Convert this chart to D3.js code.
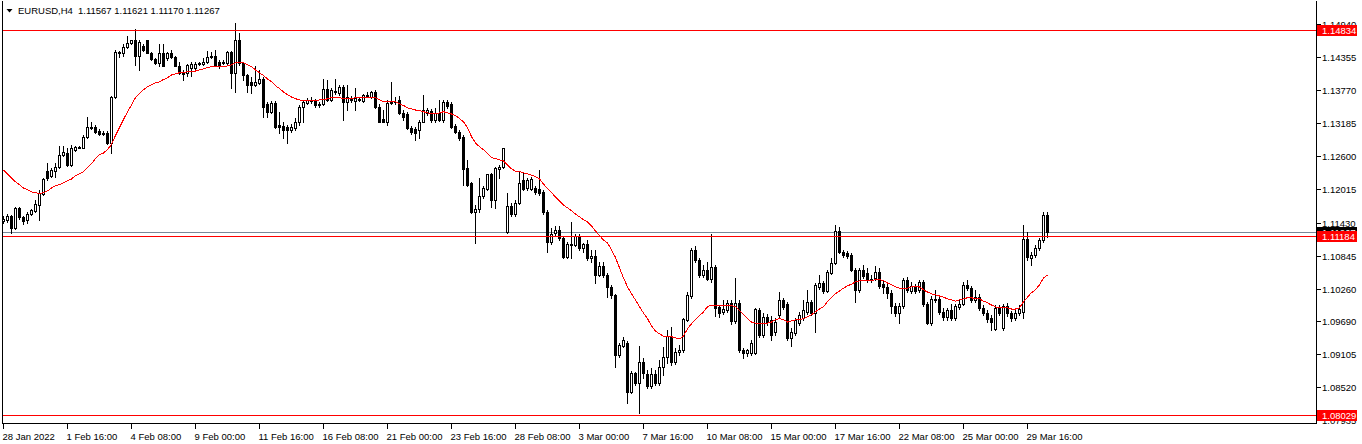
<!DOCTYPE html>
<html><head><meta charset="utf-8">
<script src="https://cdn.jsdelivr.net/npm/d3@7"></script>
<style>
body{margin:0;background:#fff;}
svg{display:block;font-family:"Liberation Sans",Arial,sans-serif;}
</style>
</head><body>
<svg id="chart" width="1362" height="444"></svg>
<script>
const symbolTitle = "EURUSD,H4";
const titleValues = "1.11567 1.11621 1.11170 1.11267";

const open = [
1.1146,1.1148,1.1155,1.1134,1.1169,1.1153,1.1148,1.1158,1.1164,1.1174,
1.1194,1.1235,1.1226,1.1235,1.1242,1.1263,1.1266,1.1245,1.1272,1.1275,
1.1275,1.1295,1.1312,1.1312,1.1305,1.1302,1.1302,1.1284,1.1365,1.1445,
1.1442,1.1454,1.1461,1.1465,1.1438,1.1456,1.1465,1.1443,1.1433,1.1426,
1.1442,1.1434,1.1442,1.1436,1.1420,1.1410,1.1408,1.1417,1.1417,1.1426,
1.1424,1.1427,1.1436,1.1438,1.1427,1.1427,1.1426,1.1445,1.1408,1.1466,
1.1426,1.1404,1.1392,1.1387,1.1390,1.1397,1.1353,1.1339,1.1355,1.1316,
1.1314,1.1312,1.1307,1.1311,1.1320,1.1348,1.1355,1.1358,1.1358,1.1351,
1.1353,1.1380,1.1360,1.1374,1.1373,1.1383,1.1357,1.1362,1.1358,1.1362,
1.1358,1.1367,1.1365,1.1374,1.1348,1.1327,1.1321,1.1355,1.1357,1.1360,
1.1337,1.1335,1.1311,1.1309,1.1307,1.1321,1.1337,1.1341,1.1325,1.1337,
1.1325,1.1357,1.1353,1.1314,1.1304,1.1295,1.1240,1.1213,1.1162,1.1167,
1.1190,1.1203,1.1228,1.1183,1.1238,1.1242,1.1127,1.1173,1.1158,1.1178,
1.1219,1.1204,1.1203,1.1204,1.1203,1.1197,1.1162,1.1109,1.1125,1.1130,
1.1116,1.1082,1.1104,1.1104,1.1118,1.1098,1.1105,1.1081,1.1084,1.1050,
1.1066,1.1050,1.1029,1.1015,1.0909,1.0925,1.0930,1.0843,1.0877,1.0859,
1.0896,1.0875,1.0854,1.0875,1.0859,1.0888,1.0905,1.0942,1.0896,1.0914,
1.0918,1.0971,1.1013,1.1095,1.1077,1.1050,1.1059,1.1043,1.1065,1.0994,
1.0985,1.0988,1.1001,1.0969,1.1001,1.0918,1.0912,1.0912,1.0912,1.0988,
1.0944,1.0976,1.0971,1.0950,1.0980,1.1006,1.0999,1.0939,1.0948,1.0965,
1.0974,1.0985,1.1003,1.0983,1.1029,1.1036,1.1022,1.1054,1.1072,1.1128,
1.1091,1.1089,1.1086,1.1059,1.1024,1.1059,1.1054,1.1043,1.1045,1.1056,
1.1034,1.1029,1.1019,1.0996,1.0983,1.0996,1.1042,1.1022,1.1031,1.1024,
1.1038,1.0999,1.0965,1.1006,1.1008,1.0985,1.0976,1.0988,1.0974,1.0994,
1.0999,1.1033,1.1027,1.1006,1.1011,1.0992,1.0983,1.0974,1.0955,1.0992,
1.0957,1.0996,1.0983,1.0974,1.0983,1.0985,1.1114,1.1081,1.1086,1.1098,
1.1112,1.11567];

const high = [
1.1155,1.1158,1.1157,1.1171,1.1171,1.1155,1.1162,1.1167,1.1183,1.1201,
1.1222,1.1249,1.1240,1.1249,1.1279,1.1279,1.1275,1.1281,1.1279,1.1279,
1.1297,1.1330,1.1321,1.1316,1.1309,1.1305,1.1305,1.1367,1.1449,1.1447,
1.1458,1.1473,1.1466,1.1486,1.1465,1.1459,1.1466,1.1445,1.1434,1.1459,
1.1458,1.1445,1.1449,1.1438,1.1427,1.1413,1.1424,1.1427,1.1427,1.1427,
1.1434,1.1447,1.1445,1.1449,1.1431,1.1431,1.1447,1.1447,1.1496,1.1479,
1.1427,1.1406,1.1401,1.1419,1.1413,1.1401,1.1357,1.1358,1.1358,1.1339,
1.1320,1.1316,1.1318,1.1328,1.1351,1.1360,1.1364,1.1365,1.1362,1.1357,
1.1397,1.1396,1.1381,1.1397,1.1387,1.1387,1.1387,1.1367,1.1381,1.1365,
1.1371,1.1374,1.1376,1.1378,1.1353,1.1342,1.1360,1.1392,1.1365,1.1367,
1.1342,1.1339,1.1314,1.1312,1.1325,1.1369,1.1346,1.1344,1.1346,1.1360,
1.1360,1.1360,1.1357,1.1318,1.1307,1.1297,1.1254,1.1215,1.1174,1.1222,
1.1208,1.1229,1.1231,1.1242,1.1245,1.1275,1.1196,1.1178,1.1183,1.1233,
1.1233,1.1222,1.1224,1.1208,1.1236,1.1201,1.1165,1.1134,1.1137,1.1137,
1.1120,1.1109,1.1144,1.1123,1.1123,1.1107,1.1112,1.1095,1.1095,1.1073,
1.1073,1.1054,1.1033,1.1017,1.0930,1.0941,1.0934,1.0880,1.0879,1.0925,
1.0904,1.0882,1.0886,1.0882,1.0900,1.0923,1.0953,1.0958,1.0921,1.0927,
1.0974,1.1020,1.1098,1.1102,1.1081,1.1068,1.1073,1.1123,1.1068,1.0997,
1.1006,1.1006,1.1006,1.1045,1.1006,1.0921,1.0919,1.0935,1.0992,1.0992,
1.0983,1.0981,1.0978,1.0974,1.1020,1.1010,1.1003,1.0957,1.0974,1.0985,
1.1006,1.1024,1.1006,1.1036,1.1050,1.1040,1.1059,1.1081,1.1139,1.1135,
1.1095,1.1093,1.1089,1.1063,1.1063,1.1068,1.1063,1.1050,1.1066,1.1063,
1.1042,1.1034,1.1024,1.1001,1.1001,1.1045,1.1047,1.1038,1.1034,1.1042,
1.1042,1.1003,1.1013,1.1024,1.1013,1.0992,1.0992,1.0999,1.0999,1.1006,
1.1038,1.1042,1.1031,1.1024,1.1017,1.0997,1.0988,1.0980,1.0997,1.0997,
1.0999,1.1001,1.0987,1.0988,1.0997,1.1139,1.1127,1.1091,1.1104,1.1116,
1.1162,1.11621];

const low = [
1.1142,1.1144,1.1125,1.1132,1.1150,1.1141,1.1142,1.1157,1.1162,1.1148,
1.1192,1.1219,1.1224,1.1224,1.1240,1.1261,1.1243,1.1243,1.1270,1.1274,
1.1274,1.1293,1.1309,1.1302,1.1298,1.1298,1.1282,1.1266,1.1364,1.1436,
1.1438,1.1452,1.1459,1.1422,1.1413,1.1447,1.1442,1.1431,1.1424,1.1419,
1.1419,1.1431,1.1434,1.1419,1.1406,1.1396,1.1403,1.1403,1.1413,1.1422,
1.1422,1.1426,1.1434,1.1420,1.1417,1.1424,1.1424,1.1381,1.1374,1.1422,
1.1396,1.1374,1.1373,1.1385,1.1388,1.1330,1.1330,1.1337,1.1311,1.1302,
1.1293,1.1284,1.1304,1.1307,1.1316,1.1321,1.1353,1.1355,1.1348,1.1348,
1.1351,1.1358,1.1358,1.1371,1.1369,1.1325,1.1342,1.1357,1.1342,1.1358,
1.1357,1.1365,1.1364,1.1346,1.1320,1.1320,1.1316,1.1353,1.1353,1.1335,
1.1325,1.1309,1.1300,1.1289,1.1293,1.1320,1.1334,1.1321,1.1321,1.1323,
1.1321,1.1346,1.1311,1.1302,1.1289,1.1210,1.1208,1.1160,1.1107,1.1162,
1.1187,1.1201,1.1171,1.1169,1.1222,1.1240,1.1125,1.1155,1.1155,1.1176,
1.1201,1.1201,1.1201,1.1194,1.1192,1.1158,1.1091,1.1105,1.1120,1.1112,
1.1081,1.1081,1.1081,1.1102,1.1095,1.1091,1.1077,1.1073,1.1036,1.1049,
1.1047,1.1011,1.1010,1.0888,1.0905,1.0923,1.0824,1.0842,1.0856,1.0806,
1.0868,1.0850,1.0850,1.0856,1.0856,1.0873,1.0895,1.0891,1.0893,1.0909,
1.0914,1.0969,1.1010,1.1073,1.1047,1.1047,1.1042,1.1038,1.0978,1.0976,
1.0981,1.0985,1.0964,1.0965,1.0914,1.0904,1.0907,1.0909,1.0911,1.0941,
1.0941,1.0962,1.0935,1.0944,1.0974,1.0990,1.0935,1.0925,1.0944,1.0962,
1.0971,1.0981,1.0980,1.0950,1.1026,1.1019,1.1020,1.1052,1.1070,1.1089,
1.1082,1.1081,1.1057,1.1003,1.1020,1.1045,1.1038,1.1038,1.1042,1.1027,
1.1019,1.1010,1.0983,1.0978,1.0965,1.0992,1.1020,1.1019,1.1019,1.1020,
1.0996,1.0964,1.0962,1.1003,1.0981,1.0971,1.0971,1.0971,1.0971,1.0990,
1.0997,1.1024,1.1003,1.1003,1.0988,1.0980,1.0967,1.0953,1.0953,1.0980,
1.0953,1.0978,1.0969,1.0971,1.0980,1.0974,1.1077,1.1068,1.1082,1.1095,
1.1109,1.11170];

const close = [
1.1150,1.1155,1.1134,1.1169,1.1153,1.1146,1.1158,1.1165,1.1176,1.1196,
1.1220,1.1222,1.1236,1.1242,1.1263,1.1268,1.1245,1.1274,1.1277,1.1277,
1.1295,1.1312,1.1311,1.1304,1.1300,1.1300,1.1284,1.1365,1.1445,1.1442,
1.1454,1.1461,1.1465,1.1438,1.1463,1.1449,1.1443,1.1433,1.1426,1.1442,
1.1420,1.1442,1.1436,1.1420,1.1408,1.1406,1.1422,1.1424,1.1424,1.1424,
1.1427,1.1436,1.1438,1.1422,1.1420,1.1426,1.1445,1.1408,1.1466,1.1426,
1.1404,1.1387,1.1387,1.1392,1.1397,1.1348,1.1339,1.1355,1.1312,1.1312,
1.1307,1.1307,1.1312,1.1320,1.1348,1.1357,1.1360,1.1360,1.1351,1.1353,
1.1380,1.1360,1.1378,1.1376,1.1383,1.1357,1.1365,1.1360,1.1364,1.1360,
1.1369,1.1369,1.1374,1.1348,1.1321,1.1321,1.1355,1.1357,1.1356,1.1337,
1.1330,1.1311,1.1304,1.1302,1.1321,1.1342,1.1342,1.1325,1.1337,1.1325,
1.1357,1.1350,1.1312,1.1304,1.1293,1.1238,1.1210,1.1162,1.1167,1.1190,
1.1204,1.1228,1.1183,1.1240,1.1242,1.1274,1.1173,1.1158,1.1178,1.1213,
1.1203,1.1219,1.1220,1.1197,1.1196,1.1162,1.1109,1.1123,1.1130,1.1116,
1.1082,1.1105,1.1105,1.1120,1.1098,1.1105,1.1081,1.1084,1.1050,1.1066,
1.1050,1.1029,1.1015,1.0909,1.0927,1.0935,1.0843,1.0877,1.0859,1.0896,
1.0877,1.0854,1.0875,1.0859,1.0888,1.0905,1.0942,1.0896,1.0914,1.0918,
1.0973,1.1015,1.1095,1.1077,1.1050,1.1059,1.1043,1.1065,1.0992,1.0983,
1.0990,1.1001,1.0969,1.1001,1.0918,1.0912,1.0918,1.0930,1.0990,1.0944,
1.0976,1.0967,1.0944,1.0967,1.1006,1.0994,1.0939,1.0950,1.0971,1.0980,
1.0988,1.1003,1.0983,1.1033,1.1036,1.1022,1.1056,1.1072,1.1128,1.1091,
1.1086,1.1084,1.1059,1.1024,1.1059,1.1049,1.1042,1.1042,1.1056,1.1031,
1.1029,1.1019,1.0996,1.0983,1.0996,1.1042,1.1024,1.1031,1.1022,1.1038,
1.0999,1.0965,1.1008,1.1008,1.0985,1.0976,1.0988,1.0974,1.0996,1.0999,
1.1033,1.1027,1.1006,1.1011,1.0992,1.0983,1.0973,1.0967,1.0992,1.0983,
1.0996,1.0983,1.0974,1.0983,1.0990,1.1114,1.1082,1.1086,1.1098,1.1112,
1.1157,1.11267];

const movingAverage = [
1.1236,1.1229,1.1222,1.1215,1.1210,1.1204,1.1201,1.1197,1.1196,1.1194,
1.1196,1.1199,1.1204,1.1208,1.1210,1.1213,1.1217,1.1220,1.1226,1.1229,
1.1233,1.1240,1.1247,1.1256,1.1263,1.1266,1.1272,1.1281,1.1297,1.1311,
1.1325,1.1339,1.1351,1.1364,1.1371,1.1378,1.1383,1.1387,1.1390,1.1392,
1.1396,1.1399,1.1404,1.1406,1.1408,1.1408,1.1410,1.1410,1.1411,1.1413,
1.1415,1.1417,1.1419,1.1419,1.1419,1.1419,1.1420,1.1422,1.1426,1.1426,
1.1426,1.1422,1.1419,1.1413,1.1408,1.1403,1.1397,1.1392,1.1385,1.1380,
1.1374,1.1369,1.1365,1.1362,1.1360,1.1358,1.1358,1.1358,1.1358,1.1360,
1.1360,1.1362,1.1364,1.1365,1.1364,1.1362,1.1362,1.1362,1.1364,1.1364,
1.1364,1.1365,1.1365,1.1364,1.1360,1.1357,1.1357,1.1357,1.1357,1.1353,
1.1350,1.1346,1.1344,1.1342,1.1341,1.1339,1.1337,1.1335,1.1335,1.1337,
1.1339,1.1337,1.1335,1.1332,1.1327,1.1321,1.1311,1.1295,1.1284,1.1277,
1.1272,1.1265,1.1258,1.1256,1.1254,1.1252,1.1245,1.1238,1.1234,1.1233,
1.1231,1.1229,1.1227,1.1224,1.1220,1.1211,1.1203,1.1196,1.1188,1.1181,
1.1174,1.1169,1.1164,1.1158,1.1153,1.1148,1.1144,1.1137,1.1128,1.1120,
1.1112,1.1107,1.1095,1.1081,1.1063,1.1045,1.1029,1.1017,1.1006,1.0994,
1.0983,1.0973,1.0960,1.0951,1.0946,1.0942,1.0941,1.0941,1.0939,1.0937,
1.0942,1.0955,1.0964,1.0971,1.0978,1.0985,1.0994,1.0997,1.0997,1.0997,
1.0996,1.0996,1.0996,1.0994,1.0987,1.0980,1.0973,1.0967,1.0965,1.0965,
1.0965,1.0965,1.0967,1.0971,1.0973,1.0971,1.0967,1.0969,1.0971,1.0971,
1.0973,1.0976,1.0980,1.0985,1.0990,1.0994,1.1003,1.1010,1.1017,1.1022,
1.1027,1.1031,1.1034,1.1038,1.1040,1.1040,1.1040,1.1040,1.1042,1.1042,
1.1040,1.1036,1.1033,1.1029,1.1027,1.1027,1.1027,1.1029,1.1029,1.1029,
1.1024,1.1020,1.1017,1.1015,1.1013,1.1011,1.1008,1.1006,1.1004,1.1006,
1.1008,1.1010,1.1010,1.1008,1.1008,1.1004,1.1001,1.0997,1.0994,1.0992,
1.0992,1.0992,1.0990,1.0990,1.0992,1.1003,1.1011,1.1019,1.1024,1.1033,
1.1045,1.1050];

const priceTicks = [1.14940,1.14355,1.13770,1.13185,1.12600,1.12015,1.11430,1.10845,1.10260,1.09690,1.09105,1.08520,1.07935];
const dateTickIndex = [0,16,32,48,64,80,96,112,128,144,160,176,192,208,224,240,256];
const dateLabels = ["28 Jan 2022","1 Feb 16:00","4 Feb 08:00","9 Feb 00:00","11 Feb 16:00","16 Feb 08:00","21 Feb 00:00","23 Feb 16:00","28 Feb 08:00","3 Mar 00:00","7 Mar 16:00","10 Mar 08:00","15 Mar 00:00","17 Mar 16:00","22 Mar 08:00","25 Mar 00:00","29 Mar 16:00"];
const levelLines = [1.14834, 1.11184, 1.08029];
const bidPrice = 1.11267;

// ---------- drawing ----------
const svg = d3.select("#chart");
const FONT = "'Liberation Sans', Arial, sans-serif";
const FS = 9.5;
const plotLeft = 2.5, plotRight = 1316.5, plotBottom = 423.5, plotTop = 1;

const x = d3.scaleLinear().domain([0, open.length - 1]).range([3.5, 3.5 + 4 * (open.length - 1)]);
const y = d3.scaleLinear().domain([1.07935, 1.14940]).range([420.1, 24.1]);
const yr = v => Math.round(y(v));

svg.append("rect").attr("width",1362).attr("height",444).attr("fill","#fff");

// bid line (behind candles)
svg.append("line").attr("x1",plotLeft).attr("x2",plotRight)
  .attr("y1",yr(bidPrice)+0.5).attr("y2",yr(bidPrice)+0.5)
  .attr("stroke","#778899").attr("stroke-width",1).attr("shape-rendering","crispEdges");

// candles
const idx = d3.range(open.length);
const gc = svg.append("g").attr("shape-rendering","crispEdges");
const c = gc.selectAll("g.candle").data(idx).join("g").attr("class","candle");
c.append("line")
  .attr("x1", i=>x(i)).attr("x2", i=>x(i))
  .attr("y1", i=>yr(high[i])).attr("y2", i=>yr(low[i])+1)
  .attr("stroke","#000").attr("stroke-width",1);
c.each(function(i){
  const g = d3.select(this);
  const top = yr(Math.max(open[i],close[i]));
  const bot = yr(Math.min(open[i],close[i]));
  if (close[i] > open[i] && bot > top) {
    g.append("rect").attr("x", x(i)-1).attr("y", top+0.5)
      .attr("width",2).attr("height", bot-top)
      .attr("fill","#fff").attr("stroke","#000").attr("stroke-width",1);
  } else {
    g.append("rect").attr("x", x(i)-1.5).attr("y", top)
      .attr("width",3).attr("height", Math.max(1, bot-top+1))
      .attr("fill","#000");
  }
});

// moving average
svg.append("path").datum(movingAverage)
  .attr("d", d3.line().x((d,i)=>x(i)).y(d=>y(d)))
  .attr("fill","none").attr("stroke","rgb(255,0,0)").attr("stroke-width",1)
  .attr("shape-rendering","crispEdges");

// horizontal level lines (foreground objects)
levelLines.forEach(v=>{
  svg.append("rect").attr("x",3).attr("y",yr(v)).attr("width",1313).attr("height",1)
    .attr("fill","rgb(255,0,0)").attr("shape-rendering","crispEdges");
});

// frame
const gf = svg.append("g").attr("shape-rendering","crispEdges").attr("stroke","#000");
gf.append("line").attr("x1",plotLeft).attr("x2",plotLeft).attr("y1",plotTop).attr("y2",plotBottom+0.5);
gf.append("line").attr("x1",plotRight).attr("x2",plotRight).attr("y1",plotTop).attr("y2",plotBottom+0.5);
gf.append("line").attr("x1",plotLeft).attr("x2",plotRight+0.5).attr("y1",plotBottom).attr("y2",plotBottom);

// right axis
const axR = svg.append("g").attr("transform",`translate(${plotRight},0)`)
  .call(d3.axisRight(y).tickValues(priceTicks).tickFormat(d3.format(".5f")).tickSize(4).tickPadding(2).offset(0));
axR.select(".domain").remove();
axR.attr("font-family",FONT).attr("font-size",FS).attr("shape-rendering","crispEdges");
axR.selectAll(".tick").attr("transform", d=>`translate(0,${yr(d)+0.5})`);
axR.selectAll(".tick line").attr("stroke","#000");
axR.selectAll(".tick text").attr("fill","#000").attr("x",5.5).attr("dy","0.36em");

// bottom axis
const axB = svg.append("g").attr("transform",`translate(0,${plotBottom})`)
  .call(d3.axisBottom(x).tickValues(dateTickIndex).tickFormat((d,i)=>dateLabels[i]).tickSize(5).offset(0));
axB.select(".domain").remove();
axB.attr("font-family",FONT).attr("font-size",FS).attr("shape-rendering","crispEdges");
axB.selectAll(".tick line").attr("stroke","#000");
axB.selectAll(".tick text").attr("fill","#000").attr("text-anchor","start").attr("x",-1).attr("y",9.5).attr("dy","0.71em");

// price labels (bid then levels)
function priceLabel(v, fill){
  const cy = yr(v)+0.5;
  svg.append("rect").attr("x",1317).attr("y",cy-5.5).attr("width",40).attr("height",11)
    .attr("fill",fill).attr("shape-rendering","crispEdges");
  svg.append("text").attr("x",1322).attr("y",cy).attr("dy","0.36em")
    .attr("font-family",FONT).attr("font-size",FS).attr("fill","#fff")
    .text(d3.format(".5f")(v));
}
priceLabel(bidPrice, "#000");
levelLines.forEach(v=>priceLabel(v, "rgb(255,0,0)"));

// title
svg.append("path").attr("d","M6.5,9 L12.5,9 L9.5,12.5 Z").attr("fill","#000");
svg.append("text").attr("x",18).attr("y",14).attr("font-family",FONT).attr("font-size",FS)
  .attr("fill","#000").text(symbolTitle);
svg.append("text").attr("x",78).attr("y",14).attr("font-family",FONT).attr("font-size",FS)
  .attr("fill","#000").text(titleValues);
</script>
</body></html>
